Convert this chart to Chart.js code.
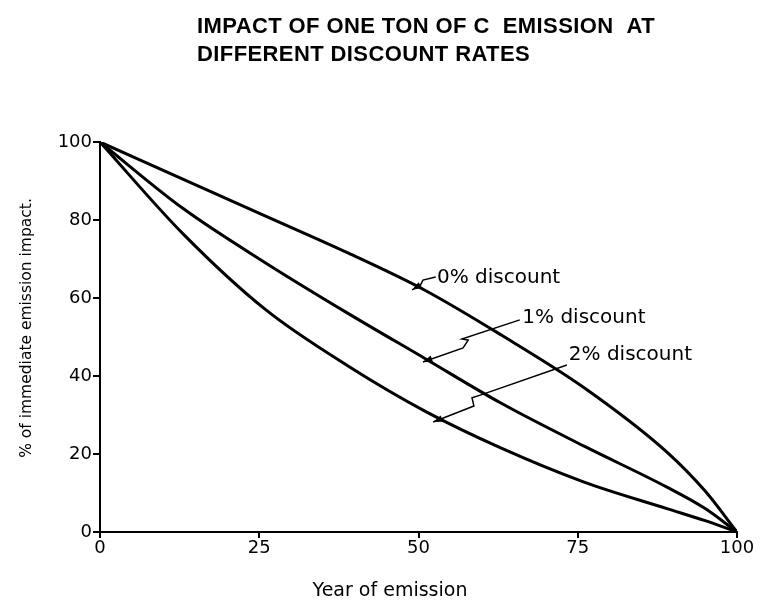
<!DOCTYPE html>
<html>
<head>
<meta charset="utf-8">
<script src="https://cdn.jsdelivr.net/npm/chart.js@4.4.1/dist/chart.umd.min.js"></script>
<style>
  html, body { margin: 0; padding: 0; background: #fff; }
  #wrap { position: relative; width: 762px; height: 608px; }
</style>
</head>
<body>
<div id="wrap"><canvas id="ImpactChart" width="762" height="608"></canvas></div>
<script>
// values (year of emission -> % of immediate impact)
var years = [0, 13, 26, 39, 51, 63, 76, 89, 95, 100];
var discount0 = [100, 90.5, 81, 71.5, 62, 50.5, 37, 20.5, 10.5, 0];
var discount1 = [100, 83, 69, 56, 44.5, 33, 22, 11.5, 6, 0];
var discount2 = [100, 76.5, 57, 42.5, 31, 21.5, 12.8, 6, 2.9, 0];

var xTicks = [0, 25, 50, 75, 100];
var yTicks = [0, 20, 40, 60, 80, 100];

var titleLines = ['IMPACT OF ONE TON OF C  EMISSION  AT', 'DIFFERENT DISCOUNT RATES'];
var xTitle = 'Year of emission';
var yTitle = '% of immediate emission impact.';

// curve labels and their leader lines, in data units
var curveLabels = ['0% discount', '1% discount', '2% discount'];
var labelAt = [[52.9, 65.1], [66.3, 54.9], [73.6, 45.4]];
var leaders = [
    [[52.7, 65.4], [50.7, 64.6], [50.3, 63.3], [49.0, 62.1]],
    [[65.9, 54.4], [56.8, 49.5], [57.8, 49.2], [57.0, 47.2], [50.7, 43.6]],
    [[73.3, 42.8], [59.7, 35.1], [58.4, 34.4], [58.7, 32.3], [52.3, 28.2]]
];

function toPoints(values) {
    return values.map((v, i) => ({x: years[i], y: v}));
}

var textFont = '"DejaVu Sans", sans-serif';

var plugins = [{
    id: 'figureText',
    afterDraw: chart => {
        let ctx = chart.ctx;
        let xs = chart.scales.x;
        let ys = chart.scales.y;
        ctx.save();
        ctx.fillStyle = '#000';
        ctx.strokeStyle = '#000';

        // title
        ctx.font = 'bold 22px "Liberation Sans", sans-serif';
        ctx.letterSpacing = '0.4px';
        ctx.textAlign = 'left';
        ctx.textBaseline = 'alphabetic';
        ctx.fillText(titleLines[0], 197, 33);
        ctx.fillText(titleLines[1], 197, 61);
        ctx.letterSpacing = '0px';

        // axis titles
        ctx.font = '19px ' + textFont;
        ctx.textAlign = 'center';
        ctx.textBaseline = 'middle';
        ctx.fillText(xTitle, 390, 591);
        ctx.font = '15.5px ' + textFont;
        ctx.save();
        ctx.translate(27, 328);
        ctx.rotate(-Math.PI / 2);
        ctx.fillText(yTitle, 0, 0);
        ctx.restore();

        // leader lines with arrow heads
        ctx.lineWidth = 1.5;
        leaders.forEach(line => {
            let pts = line.map(p => [xs.getPixelForValue(p[0]), ys.getPixelForValue(p[1])]);
            ctx.beginPath();
            ctx.moveTo(pts[0][0], pts[0][1]);
            pts.slice(1).forEach(p => ctx.lineTo(p[0], p[1]));
            ctx.stroke();
            let a = pts[pts.length - 2], b = pts[pts.length - 1];
            let ang = Math.atan2(b[1] - a[1], b[0] - a[0]);
            ctx.beginPath();
            ctx.moveTo(b[0], b[1]);
            ctx.lineTo(b[0] - 10 * Math.cos(ang - 0.35), b[1] - 10 * Math.sin(ang - 0.35));
            ctx.lineTo(b[0] - 10 * Math.cos(ang + 0.35), b[1] - 10 * Math.sin(ang + 0.35));
            ctx.closePath();
            ctx.fill();
        });

        // curve labels
        ctx.font = '20px ' + textFont;
        ctx.textAlign = 'left';
        ctx.textBaseline = 'middle';
        curveLabels.forEach((t, i) => {
            ctx.fillText(t, xs.getPixelForValue(labelAt[i][0]), ys.getPixelForValue(labelAt[i][1]));
        });
        ctx.restore();
    }
}];

function lineSet(label, values) {
    return {
        label: label,
        data: toPoints(values),
        borderColor: '#000',
        borderWidth: 3,
        pointRadius: 0,
        fill: false,
        cubicInterpolationMode: 'monotone'
    };
}

var options = {
    responsive: false,
    animation: false,
    layout: {padding: {top: 142, right: 25, left: 0, bottom: 0}},
    plugins: {
        legend: {display: false},
        tooltip: {enabled: false}
    },
    scales: {
        x: {
            type: 'linear',
            min: 0,
            max: 100,
            afterFit: scale => { scale.height = 76; },
            afterBuildTicks: scale => { scale.ticks = xTicks.map(v => ({value: v})); },
            border: {display: true, color: '#000', width: 2},
            grid: {display: true, drawOnChartArea: false, drawTicks: true, tickLength: 6, color: '#000', lineWidth: 2},
            ticks: {color: '#000', padding: 0, maxRotation: 0, font: {family: textFont, size: 18}}
        },
        y: {
            type: 'linear',
            min: 0,
            max: 100,
            afterFit: scale => { scale.width = 100; },
            afterBuildTicks: scale => { scale.ticks = yTicks.map(v => ({value: v})); },
            border: {display: true, color: '#000', width: 2},
            grid: {display: true, drawOnChartArea: false, drawTicks: true, tickLength: 7, color: '#000', lineWidth: 2},
            ticks: {color: '#000', padding: 1, font: {family: textFont, size: 18}}
        }
    }
};

new Chart(document.getElementById('ImpactChart'), {
    type: 'line',
    data: {
        datasets: [
            lineSet('0% discount', discount0),
            lineSet('1% discount', discount1),
            lineSet('2% discount', discount2)
        ]
    },
    options: options,
    plugins: plugins
});
</script>
</body>
</html>
